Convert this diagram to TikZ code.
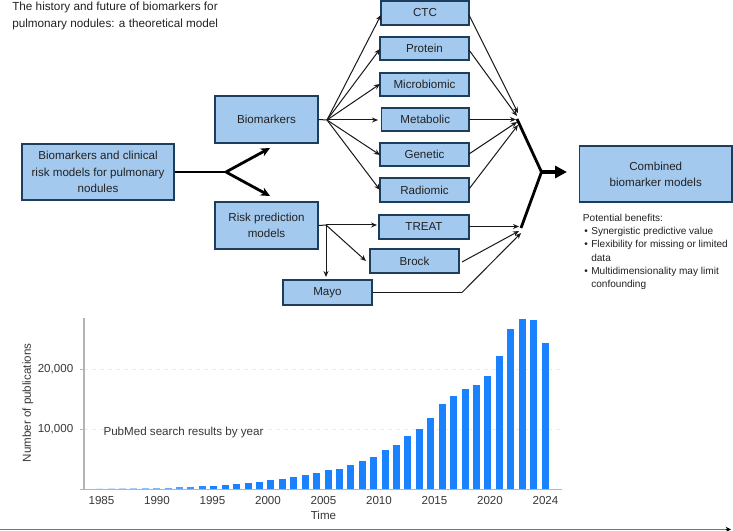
\documentclass[tikz,border=0pt]{standalone}
\usepackage{fontspec}
\setmainfont{Liberation Sans}
\usetikzlibrary{arrows.meta}
\definecolor{boxfill}{HTML}{A4C9EE}
\definecolor{boxline}{HTML}{1C3D5C}
\definecolor{ink}{HTML}{222222}
\definecolor{bar}{HTML}{1A82FF}
\definecolor{axisgrey}{HTML}{B4B4B4}
\tikzset{
  bx/.style={draw=boxline,fill=boxfill,line width=1.1pt,inner sep=0pt,align=center,text=ink,font=\fontsize{8.7}{12.2}\selectfont},
  thin line/.style={draw=black!90,line width=0.75pt},
  thin arrow/.style={thin line,-{Stealth[length=4.5pt,width=3.8pt]}},
  thick line/.style={draw=black,line width=2.1pt},
  lbl/.style={inner sep=0pt,text=ink,font=\fontsize{8.7}{12.2}\selectfont},
  small/.style={inner sep=0pt,text=ink,font=\fontsize{7.55}{10}\selectfont},
  tick/.style={inner sep=0pt,text=ink!90,font=\fontsize{8.7}{10}\selectfont},
  grid/.style={draw=black!8,line width=0.5pt,dashed},
}
\newcommand{\bxnode}[6]{\node[bx,minimum width={(#4-#2)*0.75pt},minimum height={(#5-#3)*0.75pt}] (#1) at ({(#2+#4)/2},{(#3+#5)/2}) {#6};}
\begin{document}
\begin{tikzpicture}[x=0.75pt,y=-0.75pt]
\useasboundingbox (0,0) rectangle (733,531);
\fill[white] (0,0) rectangle (733,531);
\node[lbl,anchor=north west,align=left,font=\fontsize{8.8}{12.7}\selectfont] (title) at (12,2) {The history and future of biomarkers for\\pulmonary nodules: a theoretical model};
\bxnode{main}{22}{144}{174}{200}{Biomarkers and clinical\\risk models for pulmonary\\nodules}
\bxnode{bio}{215}{96}{318}{143}{Biomarkers}
\bxnode{risk}{215}{202}{318}{249}{Risk prediction\\models}
\bxnode{ctc}{381}{1}{469}{25}{CTC}
\bxnode{protein}{380}{37}{469}{60}{Protein}
\bxnode{micro}{380}{73}{469}{96}{Microbiomic}
\bxnode{metab}{381.5}{108}{469}{131}{Metabolic}
\bxnode{genetic}{380}{143}{469}{166}{Genetic}
\bxnode{radio}{380}{178}{469}{202}{Radiomic}
\bxnode{treat}{379}{215}{469}{239}{TREAT}
\bxnode{brock}{370}{249}{459}{273}{Brock}
\bxnode{mayo}{283}{280}{372}{305}{Mayo}
\bxnode{comb}{579.5}{146}{732}{202}{Combined\\biomarker models}
\node[small,anchor=north west,align=left] (ben) at (582.7,213.5) {Potential benefits:\\
\hspace*{1pt}\textbullet\hspace{2.6pt}Synergistic predictive value\\
\hspace*{1pt}\textbullet\hspace{2.6pt}Flexibility for missing or limited\\
\hspace*{1pt}\hphantom{\textbullet}\hspace{2.6pt}data\\
\hspace*{1pt}\textbullet\hspace{2.6pt}Multidimensionality may limit\\
\hspace*{1pt}\hphantom{\textbullet}\hspace{2.6pt}confounding};
% left fork
\coordinate (fork) at (226,172);
\coordinate (forkB) at (270,148);
\coordinate (forkR) at (270,196);
\draw[thick line] (main.east) -- (fork);
\draw[thick line,-{Stealth[length=7pt,width=6.5pt]}] (fork) -- (forkB);
\draw[thick line,-{Stealth[length=7pt,width=6.5pt]}] (fork) -- (forkR);
% biomarker fan
\coordinate (hubB) at (327,120);
\draw[thin line] (bio.east) -- (hubB);
\coordinate (e1) at (381,15); \coordinate (e2) at (380,49); \coordinate (e3) at (380,84);
\coordinate (e4) at (378,120); \coordinate (e5) at (380,155); \coordinate (e6) at (380,190);
\foreach \e in {e1,e2,e3,e4,e5,e6} \draw[thin arrow] (hubB) -- (\e);
% risk fan
\coordinate (hubR) at (326,225);
\coordinate (rTreat) at (377,225);
\coordinate (rBrock) at (366,261);
\coordinate (rMayo) at (326,277);
\draw[thin line] (risk.east) -- (hubR);
\draw[thin arrow] (hubR) -- (rTreat);
\draw[thin arrow] (hubR) -- (rBrock);
\draw[thin arrow] (hubR) -- (rMayo);
% merge
\coordinate (m1) at (518,113); \coordinate (m2) at (517,116); \coordinate (m3) at (516,119.5);
\coordinate (m4) at (517,122); \coordinate (m5) at (518,125);
\coordinate (s1) at (469,15); \coordinate (s2) at (469,50); \coordinate (s3) at (469,119.5);
\coordinate (s4) at (469,154); \coordinate (s5) at (469,189);
\foreach \i in {1,...,5} \draw[thin arrow] (s\i) -- (m\i);
\coordinate (n1) at (519,226.5); \coordinate (n2) at (519,231); \coordinate (n3) at (521,233);
\coordinate (s6) at (469,226.5); \coordinate (s7) at (462,262); \coordinate (s8) at (462,292.5);
\draw[thin arrow] (s6) -- (n1);
\draw[thin arrow] (s7) -- (n2);
\draw[thin line] (mayo.east) -- (s8);
\draw[thin arrow] (s8) -- (n3);
\coordinate (j) at (541.5,172);
\coordinate (t1) at (517,119); \coordinate (t2) at (521,228);
\coordinate (outp) at (567,172);
\draw[thick line,line join=round] (t1) -- (j) -- (t2);
\draw[thick line,line width=3pt,-{Triangle[length=9pt,width=9pt,sep=0pt]}] (j) -- (outp);
% chart
\coordinate (ax0) at (84,489.5); \coordinate (axT) at (84,318); \coordinate (axL) at (80,489.5); \coordinate (axR) at (562,489.5);
\draw[grid] (84,369.5) -- (562,369.5);
\draw[grid] (84,429) -- (562,429);
\draw[axisgrey,line width=0.55pt] (80,369.5) -- (84,369.5) (80,429) -- (84,429);
\draw[axisgrey,line width=0.9pt] (axT) -- (ax0);
\draw[axisgrey,line width=0.9pt] (axL) -- (axR);
\foreach \t [count=\k from 0] in {537,537,536.5,536.5,536,536,535.5,535,535,534,533,532,530,529,528,526,522,518,515,510,507,502,494,488,480,476,466,454,441,421,405,379,356,324,282,257,237,224,197,138,56,28,31,98} {
  \pgfmathsetmacro{\xc}{545-(43-\k)*11.42}
  \pgfmathsetmacro{\yt}{min(310+\t/3,488)}
  \pgfmathsetmacro{\op}{min(1,0.12+(\k-4)*0.09)}
  \ifnum\k>3 \fill[bar,fill opacity=\op] ({\xc-3.5},\yt) rectangle ({\xc+3.5},489); \fi
}
\node[tick,anchor=east] (l20) at (73.5,369.5) {20,000};
\node[tick,anchor=east] (l10) at (73.5,429) {10,000};
\node[tick,rotate=90] (ylab) at (28,403) {Number of publications};
\node[tick] (pm) at (183.5,433) {PubMed search results by year};
\foreach \y/\x in {1985/101.5,1990/157,1995/212.5,2000/268,2005/323.5,2010/379,2015/434.5,2020/490,2024/545.5} \node[tick] (y\y) at (\x,501) {\y};
\node[tick] (time) at (323.5,515.5) {Time};
\coordinate (bl) at (0,529.4); \coordinate (bm) at (726,529.4); \coordinate (br) at (731,529.4);
\draw[black!55,line width=1pt] (bl) -- (bm);
\draw[black,line width=0.6pt,-{Stealth[length=4pt,width=4pt]}] (bm) -- (br);
\end{tikzpicture}
\end{document}
